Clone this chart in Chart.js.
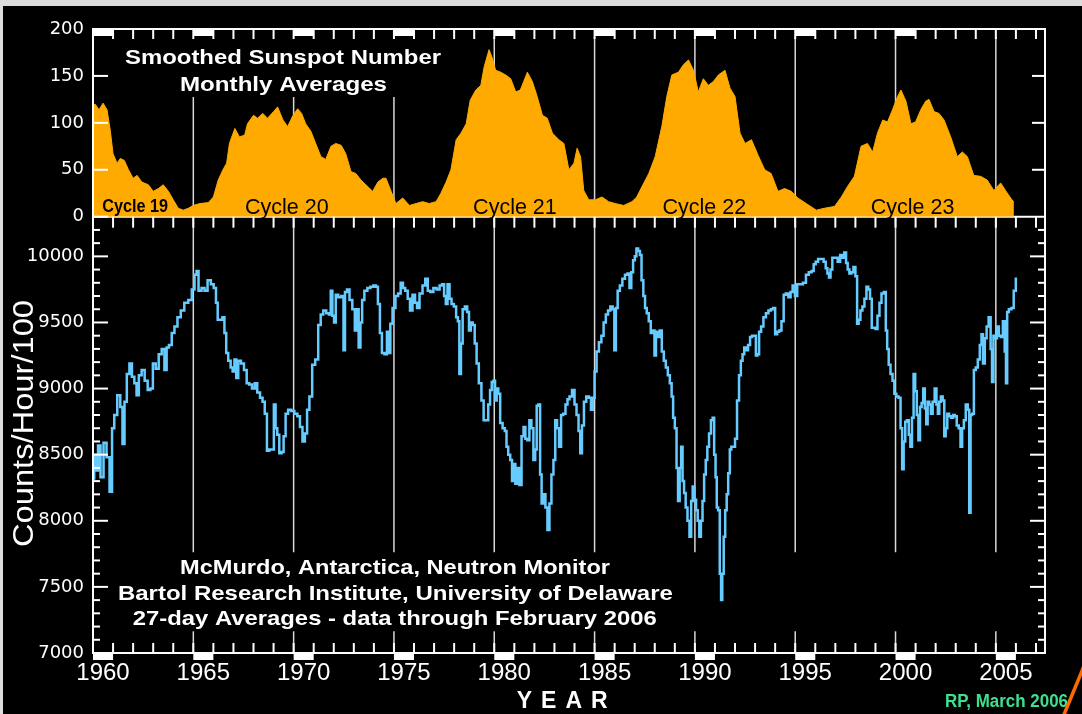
<!DOCTYPE html>
<html>
<head>
<meta charset="utf-8">
<script src="https://cdn.jsdelivr.net/npm/chart.js@4.4.0/dist/chart.umd.min.js"></script>
<style>
html, body { margin: 0; padding: 0; background: #dcdcdc; }
canvas { display: block; }
</style>
</head>
<body>
<canvas id="cosmic" width="1082" height="714"></canvas>
<script>
// smoothed sunspot number, monthly averages
var sunYear = [1960.0,1960.1,1960.3,1960.5,1960.7,1960.86,1961.0,1961.2,1961.36,1961.56,1961.77,1962.0,1962.2,1962.43,1962.76,1963.0,1963.26,1963.5,1963.76,1964.0,1964.25,1964.5,1964.75,1965.0,1965.33,1965.75,1966.0,1966.24,1966.5,1966.66,1966.8,1967.07,1967.3,1967.56,1967.7,1968.0,1968.2,1968.46,1968.7,1969.0,1969.2,1969.47,1969.7,1969.97,1970.2,1970.4,1970.6,1970.86,1971.1,1971.36,1971.6,1971.86,1972.1,1972.37,1972.6,1972.86,1973.1,1973.36,1973.6,1973.94,1974.2,1974.45,1974.6,1974.86,1975.1,1975.44,1975.77,1976.1,1976.43,1976.76,1977.1,1977.34,1977.6,1977.84,1978.1,1978.34,1978.6,1978.8,1979.08,1979.33,1979.5,1979.74,1979.9,1980.07,1980.32,1980.57,1980.82,1981.07,1981.3,1981.65,1981.9,1982.14,1982.4,1982.64,1982.9,1983.22,1983.47,1983.72,1983.97,1984.13,1984.3,1984.46,1984.71,1985.04,1985.37,1985.7,1986.03,1986.45,1986.86,1987.1,1987.36,1987.7,1988.02,1988.35,1988.6,1988.85,1989.18,1989.43,1989.68,1989.93,1990.17,1990.42,1990.67,1990.92,1991.17,1991.5,1991.75,1992.0,1992.25,1992.5,1992.82,1993.16,1993.48,1993.8,1994.14,1994.47,1994.8,1995.13,1995.55,1996.05,1996.46,1996.96,1997.3,1997.6,1997.95,1998.28,1998.6,1998.86,1999.1,1999.36,1999.6,1999.85,2000.1,2000.27,2000.52,2000.77,2001.0,2001.26,2001.5,2001.67,2001.92,2002.17,2002.42,2002.75,2003.08,2003.33,2003.58,2003.9,2004.24,2004.57,2004.9,2005.24,2005.48,2005.8,2005.9];
var sunValue = [119,120,114,121,114,92,67,57,62,60,50,41,44,37,34,27,30,34,27,18,9,7,9,12,14,15,21,39,51,57,78,94,85,87,99,108,105,110,105,112,117,103,96,108,115,110,99,91,78,64,61,75,78,76,67,48,46,39,34,27,37,41,41,27,14,20,12,14,16,14,16,25,37,50,82,89,99,124,135,140,160,178,169,156,154,151,147,133,135,154,144,128,108,105,89,82,78,50,57,73,64,28,18,18,21,16,14,12,16,21,32,46,64,96,128,151,154,162,167,156,133,147,140,144,151,156,137,128,89,78,82,65,50,46,27,30,27,20,14,7,9,11,21,32,43,75,78,69,89,103,101,114,128,135,123,99,101,114,123,125,112,110,103,85,64,69,64,44,43,39,28,36,28,18,16];
var sunTicks = [0, 50, 100, 150, 200];

// McMurdo neutron monitor, 27-day averages, counts/hour/100
var nmYear = [1960.0,1960.12,1960.2,1960.3,1960.45,1960.6,1960.75,1960.9,1961.0,1961.12,1961.3,1961.42,1961.52,1961.62,1961.75,1961.88,1962.0,1962.12,1962.22,1962.35,1962.5,1962.65,1962.8,1962.92,1963.05,1963.2,1963.35,1963.5,1963.62,1963.72,1963.85,1964.0,1964.12,1964.3,1964.45,1964.65,1964.85,1965.0,1965.12,1965.2,1965.32,1965.5,1965.62,1965.8,1965.95,1966.08,1966.18,1966.25,1966.4,1966.5,1966.6,1966.68,1966.8,1966.92,1967.0,1967.1,1967.18,1967.3,1967.45,1967.6,1967.72,1967.85,1968.0,1968.12,1968.25,1968.4,1968.5,1968.62,1968.72,1968.85,1968.98,1969.05,1969.15,1969.22,1969.35,1969.45,1969.55,1969.65,1969.8,1969.95,1970.12,1970.25,1970.38,1970.5,1970.62,1970.72,1970.85,1971.0,1971.15,1971.3,1971.4,1971.55,1971.7,1971.82,1971.88,1971.98,1972.05,1972.15,1972.3,1972.45,1972.52,1972.6,1972.72,1972.85,1973.0,1973.1,1973.2,1973.28,1973.38,1973.45,1973.6,1973.75,1973.9,1974.05,1974.15,1974.25,1974.35,1974.45,1974.6,1974.7,1974.78,1974.86,1975.0,1975.15,1975.27,1975.4,1975.5,1975.62,1975.75,1975.85,1976.0,1976.1,1976.2,1976.35,1976.5,1976.62,1976.75,1976.88,1977.05,1977.2,1977.35,1977.45,1977.55,1977.62,1977.72,1977.82,1977.92,1978.05,1978.15,1978.22,1978.3,1978.38,1978.47,1978.6,1978.7,1978.78,1978.88,1978.97,1979.08,1979.16,1979.3,1979.42,1979.52,1979.65,1979.75,1979.83,1979.92,1980.0,1980.08,1980.16,1980.24,1980.35,1980.48,1980.57,1980.65,1980.74,1980.85,1980.92,1981.0,1981.1,1981.2,1981.3,1981.42,1981.5,1981.6,1981.7,1981.8,1981.9,1982.0,1982.08,1982.15,1982.25,1982.32,1982.4,1982.5,1982.6,1982.7,1982.8,1982.9,1983.0,1983.08,1983.18,1983.28,1983.38,1983.5,1983.6,1983.7,1983.8,1983.95,1984.05,1984.15,1984.25,1984.32,1984.42,1984.52,1984.65,1984.78,1984.86,1984.95,1985.05,1985.15,1985.28,1985.4,1985.5,1985.62,1985.72,1985.85,1985.95,1986.02,1986.1,1986.2,1986.32,1986.45,1986.58,1986.7,1986.78,1986.88,1986.96,1987.05,1987.12,1987.22,1987.3,1987.38,1987.48,1987.55,1987.65,1987.75,1987.85,1987.95,1988.02,1988.1,1988.2,1988.3,1988.4,1988.5,1988.6,1988.7,1988.8,1988.88,1988.95,1989.05,1989.12,1989.2,1989.28,1989.35,1989.42,1989.5,1989.58,1989.68,1989.78,1989.85,1989.93,1990.02,1990.1,1990.18,1990.26,1990.34,1990.42,1990.5,1990.58,1990.66,1990.75,1990.85,1990.92,1991.0,1991.06,1991.12,1991.2,1991.28,1991.33,1991.4,1991.47,1991.55,1991.62,1991.7,1991.78,1991.85,1991.95,1992.05,1992.15,1992.25,1992.33,1992.42,1992.5,1992.6,1992.7,1992.8,1992.9,1993.0,1993.08,1993.15,1993.25,1993.35,1993.48,1993.6,1993.73,1993.85,1993.95,1994.05,1994.15,1994.25,1994.38,1994.47,1994.6,1994.72,1994.82,1994.92,1995.05,1995.15,1995.3,1995.47,1995.6,1995.75,1995.88,1995.96,1996.08,1996.2,1996.35,1996.48,1996.56,1996.65,1996.72,1996.8,1996.9,1997.05,1997.18,1997.3,1997.4,1997.49,1997.58,1997.65,1997.75,1997.85,1997.95,1998.05,1998.12,1998.2,1998.3,1998.4,1998.5,1998.6,1998.68,1998.78,1998.85,1998.95,1999.05,1999.15,1999.25,1999.35,1999.48,1999.55,1999.62,1999.7,1999.8,1999.9,1999.98,2000.1,2000.2,2000.3,2000.36,2000.45,2000.52,2000.62,2000.7,2000.78,2000.86,2000.94,2001.02,2001.1,2001.18,2001.26,2001.34,2001.42,2001.5,2001.56,2001.64,2001.72,2001.8,2001.9,2002.0,2002.08,2002.14,2002.22,2002.3,2002.4,2002.46,2002.54,2002.62,2002.72,2002.82,2002.92,2003.0,2003.1,2003.2,2003.28,2003.36,2003.45,2003.55,2003.65,2003.7,2003.78,2003.86,2003.95,2004.05,2004.15,2004.25,2004.32,2004.4,2004.5,2004.58,2004.7,2004.78,2004.84,2004.92,2005.02,2005.1,2005.2,2005.3,2005.4,2005.48,2005.53,2005.6,2005.7,2005.85,2005.93,2006.06];
var nmCount = [8320,8500,8380,8570,8330,8590,8480,8220,8700,8800,8950,8860,8580,8900,9110,9190,9090,9040,8950,9100,9140,9060,8990,9000,9190,9150,9260,9300,9140,9310,9330,9420,9470,9540,9590,9650,9670,9750,9860,9890,9740,9760,9740,9820,9790,9760,9650,9520,9520,9540,9420,9270,9210,9160,9130,9220,9080,9210,9190,9140,9040,9030,9000,9040,8970,8930,8900,8810,8530,8540,8540,8880,8700,8650,8510,8520,8640,8810,8840,8830,8810,8790,8710,8600,8660,8840,8940,9180,9220,9480,9560,9590,9570,9560,9740,9550,9500,9710,9690,9700,9290,9730,9750,9670,9600,9440,9600,9310,9500,9670,9740,9760,9770,9780,9770,9640,9420,9270,9260,9430,9270,9490,9610,9700,9720,9800,9760,9740,9680,9590,9710,9650,9610,9720,9780,9830,9740,9730,9760,9750,9780,9790,9700,9640,9790,9680,9640,9620,9540,9510,9110,9340,9600,9620,9580,9440,9500,9480,9340,9190,9040,8910,8760,8760,8880,8990,9050,9060,8910,9000,8960,8740,8700,8680,8560,8500,8460,8300,8430,8280,8400,8270,8640,8710,8620,8610,8760,8700,8460,8540,8870,8880,8350,8130,8200,8100,7930,8130,8350,8460,8760,8700,8560,8800,8810,8880,8920,8940,8990,8880,8800,8680,8510,8720,8900,8940,8930,8840,8930,9130,9280,9350,9400,9500,9560,9590,9620,9600,9290,9610,9740,9780,9830,9860,9870,9760,9880,9970,10000,10060,10040,10010,9820,9700,9610,9570,9510,9420,9440,9250,9430,9390,9440,9280,9210,9160,9100,9040,8940,8780,8700,8400,8150,8400,8560,8300,8210,8100,8000,7880,8150,8260,8160,8080,8000,7880,8000,8150,8350,8460,8560,8660,8760,8780,8500,8330,8100,8080,7600,7400,7600,7880,8080,8200,8360,8540,8560,8560,8620,8910,9100,9210,9260,9310,9290,9330,9390,9400,9400,9250,9260,9430,9470,9540,9570,9590,9600,9610,9410,9430,9440,9510,9710,9720,9690,9730,9780,9700,9790,9790,9800,9860,9880,9890,9940,9960,9980,9980,9960,9910,9870,9840,9900,9990,9990,9960,10010,9990,10030,9950,9900,9870,9880,9920,9850,9490,9520,9590,9620,9680,9770,9750,9680,9460,9460,9450,9550,9650,9720,9730,9440,9300,9180,9110,9060,8960,8940,8930,8700,8390,8600,8750,8760,8650,8560,8780,9110,8980,8800,8610,8860,8890,9000,8850,8730,8900,8880,8810,8900,9000,8880,8810,8900,8940,8910,8640,8700,8810,8790,8780,8800,8790,8720,8700,8560,8700,8760,8880,8840,8060,8800,8810,9140,9160,9220,9330,9410,9190,9380,9470,9540,9300,9050,9400,9380,9470,9400,9390,9510,9280,9040,9580,9600,9610,9740,9830];
var nmTicks = [7000, 7500, 8000, 8500, 9000, 9500, 10000];

var cycleNames = ['Cycle 19', 'Cycle 20', 'Cycle 21', 'Cycle 22', 'Cycle 23'];
var cycleCentre = [1962.1, 1969.66, 1981.03, 1990.47, 2000.85];

var sunPoints = [];
for (let i in sunYear) sunPoints.push({x: sunYear[i], y: sunValue[i]});
var nmPoints = [];
for (let i in nmYear) nmPoints.push({x: nmYear[i], y: nmCount[i]});

var FONT = '"Liberation Sans", Arial, sans-serif';

function label(c, s, x, y, font, color, width) {
	c.save();
	c.font = font;
	c.fillStyle = color;
	c.textAlign = 'center';
	c.textBaseline = 'alphabetic';
	var k = width ? width / c.measureText(s).width : 1;
	c.translate(x, y);
	c.scale(k, 1);
	c.fillText(s, 0, 0);
	c.restore();
}

function line(c, x1, y1, x2, y2) {
	c.beginPath();
	c.moveTo(x1, y1);
	c.lineTo(x2, y2);
	c.stroke();
}

var decor = {
	id: 'decor',
	beforeDraw: function(chart) {
		var c = chart.ctx;
		c.save();
		c.fillStyle = '#dcdcdc';
		c.fillRect(0, 0, chart.width, chart.height);
		c.fillStyle = '#000';
		c.fillRect(3, 6, chart.width - 3, chart.height - 6);
		c.restore();
	},
	beforeDatasetsDraw: function(chart) {
		var c = chart.ctx, xs = chart.scales.x, ys = chart.scales.ySun, yn = chart.scales.yNm;
		c.save();
		c.strokeStyle = '#d8d8d8';
		c.lineWidth = 1.5;
		for (var yr = 1965; yr <= 2005; yr += 5) {
			var x = xs.getPixelForValue(yr);
			line(c, x, ys.top + (yr <= 1975 ? 68 : 8), x, ys.bottom);
			line(c, x, yn.top, x, yn.getPixelForValue(7762));
			line(c, x, yn.getPixelForValue(7164), x, yn.bottom);
		}
		c.strokeStyle = '#fff';
		c.lineWidth = 2;
		line(c, xs.left, ys.bottom, xs.right, ys.bottom);
		c.restore();
	},
	afterDatasetsDraw: function(chart) {
		var c = chart.ctx, xs = chart.scales.x, ys = chart.scales.ySun, yn = chart.scales.yNm;
		var L = xs.left, R = xs.right, T = ys.top, B = yn.bottom, M = ys.bottom;
		c.save();
		c.strokeStyle = '#fff';
		c.fillStyle = '#fff';
		c.lineWidth = 2;
		c.strokeRect(L, T, R - L, B - T);

		// year ticks on top edge, divider and bottom axis
		for (var yr = Math.ceil(xs.min); yr <= xs.max; yr++) {
			var x = xs.getPixelForValue(yr);
			if (yr > xs.min) {
				line(c, x, T, x, T + 10);
				line(c, x, M, x, M + 11);
				line(c, x, B, x, B - 10);
			}
			if (yr % 5 == 0) {
				var w = xs.getPixelForValue(yr + 1) - x;
				if (yr <= 2000) c.fillRect(x, T, w, 7);
				c.fillRect(x, B - 1, w, 8);
			}
		}
		// sunspot axis ticks
		for (var v = 0; v <= 200; v += 50) {
			var y = ys.getPixelForValue(v);
			line(c, L, y, L + 15, y);
			if (v > 0 && v < 200) line(c, R, y, R - 13, y);
		}
		// neutron monitor axis ticks
		for (var v = 7100; v < yn.max; v += 100) {
			var y = yn.getPixelForValue(v);
			var len = v % 500 == 0 ? 15 : 7;
			line(c, L, y, L + len, y);
			line(c, R, y, R - len, y);
		}
		c.restore();

		label(c, 'Smoothed Sunspot Number', 283, 64, 'bold 20px ' + FONT, '#fff', 316);
		label(c, 'Monthly Averages', 283.5, 91, 'bold 20px ' + FONT, '#fff', 207);
		for (var i in cycleNames) {
			var cx = xs.getPixelForValue(cycleCentre[i]);
			if (i == 0) label(c, cycleNames[i], cx, 211.5, 'bold 19px ' + FONT, '#000', 66);
			else label(c, cycleNames[i], cx, 213.5, '21.5px ' + FONT, '#000');
		}
		label(c, 'McMurdo, Antarctica, Neutron Monitor', 395, 573.5, 'bold 21px ' + FONT, '#fff', 430);
		label(c, 'Bartol Research Institute, University of Delaware', 395.4, 599.5, 'bold 21px ' + FONT, '#fff', 555);
		label(c, '27-day Averages - data through February 2006', 394.7, 625, 'bold 21px ' + FONT, '#fff', 524);

		c.save();
		c.translate(33, 423.5);
		c.rotate(-Math.PI / 2);
		label(c, 'Counts/Hour/100', 0, 0, '30px ' + FONT, '#fff', 247);
		c.restore();

		c.save();
		c.font = 'bold 23px ' + FONT;
		c.fillStyle = '#fff';
		c.letterSpacing = '9px';
		c.textAlign = 'left';
		c.fillText('YEAR', 516.7, 708.3);
		c.restore();

		label(c, 'RP, March 2006', 1006.5, 706.7, 'bold 18px ' + FONT, '#3ee08f', 123);

		c.save();
		c.strokeStyle = '#ff6a00';
		c.lineWidth = 3.5;
		line(c, 1084, 666, 1063, 717);
		c.restore();
	}
};

var ctx = document.getElementById('cosmic');

var cosmicChart = new Chart(ctx, {
	type: 'line',
	data: {
		datasets: [
			{
				label: 'Sunspot Number',
				data: sunPoints,
				yAxisID: 'ySun',
				backgroundColor: '#ffaa00',
				borderColor: '#ffaa00',
				borderWidth: 1,
				pointRadius: 0,
				fill: 'origin',
				tension: 0
			},
			{
				label: 'McMurdo Neutron Monitor',
				data: nmPoints,
				yAxisID: 'yNm',
				borderColor: '#66ccff',
				borderWidth: 2.5,
				pointRadius: 0,
				fill: false,
				stepped: 'middle'
			}
		]
	},
	options: {
		responsive: false,
		animation: false,
		devicePixelRatio: 1,
		events: [],
		layout: { padding: { top: 29, right: 37, left: 0, bottom: 0 } },
		plugins: { legend: { display: false }, tooltip: { enabled: false } },
		scales: {
			x: {
				type: 'linear',
				min: 1960,
				max: 2007.45,
				grid: { display: false, drawTicks: false },
				border: { display: false },
				ticks: {
					stepSize: 5,
					includeBounds: false,
					autoSkip: false,
					maxRotation: 0,
					labelOffset: 10,
					padding: 6,
					color: '#fff',
					font: { family: '"Liberation Sans", Arial, sans-serif', size: 24 },
					callback: function(v) { return String(v); }
				},
				afterFit: function(s) { s.height = 61; }
			},
			yNm: {
				type: 'linear',
				position: 'left',
				stack: 'panels',
				stackWeight: 436.3,
				min: 7000,
				max: 10300,
				grid: { display: false, drawTicks: false },
				border: { display: false },
				afterBuildTicks: function(s) { s.ticks = nmTicks.map(function(v) { return {value: v}; }); },
				ticks: {
					autoSkip: false,
					padding: 9,
					color: '#fff',
					font: { family: '"DejaVu Sans", sans-serif', size: 18 },
					callback: function(v) { return String(v); }
				},
				afterFit: function(s) { s.width = 93; }
			},
			ySun: {
				type: 'linear',
				position: 'left',
				stack: 'panels',
				stackWeight: 187.7,
				min: 0,
				max: 200,
				grid: { display: false, drawTicks: false },
				border: { display: false },
				afterBuildTicks: function(s) { s.ticks = sunTicks.map(function(v) { return {value: v}; }); },
				ticks: {
					autoSkip: false,
					padding: 9,
					color: '#fff',
					font: { family: '"DejaVu Sans", sans-serif', size: 18 },
					callback: function(v) { return String(v); }
				},
				afterFit: function(s) { s.width = 93; }
			}
		}
	},
	plugins: [decor]
});
</script>
</body>
</html>
